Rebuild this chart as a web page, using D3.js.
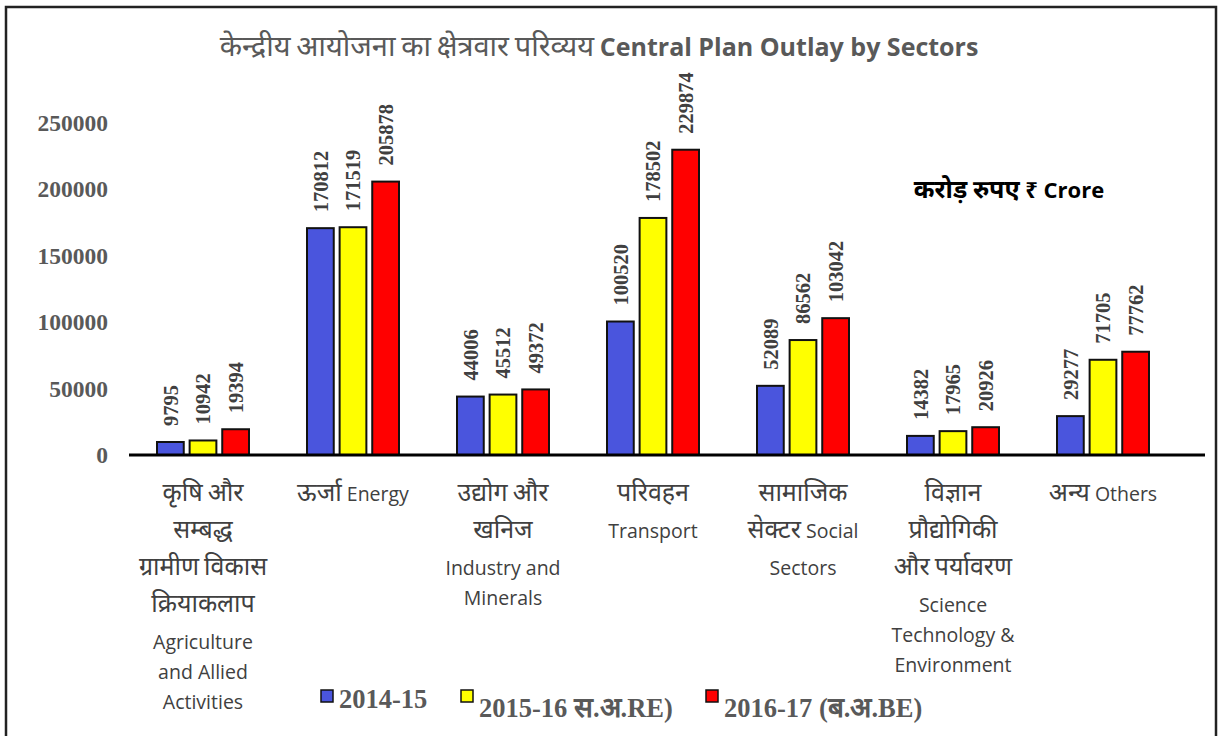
<!DOCTYPE html>
<html>
<head>
<meta charset="utf-8">
<script src="https://cdn.jsdelivr.net/npm/d3@7"></script>
<style>
  body { margin: 0; background: #fff; }
</style>
</head>
<body>
<div id="chart"></div>
<script>
const categories = ['agri', 'energy', 'industry', 'transport', 'social', 'science', 'others']
const categoryLabels = [
    ['कृषि और', 'सम्बद्ध', 'ग्रामीण विकास', 'क्रियाकलाप', 'Agriculture', 'and Allied', 'Activities'],
    ['ऊर्जा Energy'],
    ['उद्योग और', 'खनिज', 'Industry and', 'Minerals'],
    ['परिवहन', 'Transport'],
    ['सामाजिक', 'सेक्टर Social', 'Sectors'],
    ['विज्ञान', 'प्रौद्योगिकी', 'और पर्यावरण', 'Science', 'Technology &', 'Environment'],
    ['अन्य Others']
]
const seriesNames = ['2014-15', '2015-16 स.अ.RE)', '2016-17 (ब.अ.BE)']
const values2014 = [9795, 170812, 44006, 100520, 52089, 14382, 29277]
const values2015 = [10942, 171519, 45512, 178502, 86562, 17965, 71705]
const values2016 = [19394, 205878, 49372, 229874, 103042, 20926, 77762]
const yTicks = [0, 50000, 100000, 150000, 200000, 250000]

const colors = ['#4a55dd', '#ffff00', '#ff0000']
const allSeries = [values2014, values2015, values2016]

// the fallback Devanagari font draws small, so give those runs their own size
function addMixed(parent, str, latinSize, devaSize) {
    var runs = str.match(/[\u0900-\u097F]+|[^\u0900-\u097F]+/g);
    runs.forEach(function (r) {
        parent.append('tspan')
            .attr('font-size', (/[\u0900-\u097F]/.test(r) ? devaSize : latinSize) + 'px')
            .text(r);
    });
}

function DrawBarChart() {
    var W = 1223, H = 736;
    var svg = d3.select('#chart').append('svg')
        .attr('width', W).attr('height', H);

    // outer frame
    svg.append('rect')
        .attr('x', 6).attr('y', 7).attr('width', 1210).attr('height', 740)
        .attr('fill', 'none').attr('stroke', '#222').attr('stroke-width', 2.5);

    var x0 = d3.scaleBand().domain(categories).range([128, 1178]);
    var x1 = d3.scaleBand().domain([0, 1, 2]).range([29, 121]).paddingInner(0.18);
    var y = d3.scaleLinear().domain([0, 250000]).range([455, 123]);

    // title
    var title = svg.append('text')
        .attr('x', 599).attr('y', 56)
        .attr('text-anchor', 'middle')
        .attr('fill', '#595959')
        .attr('font-family', 'Open Sans, Noto Sans, sans-serif');
    addMixed(title, 'केन्द्रीय आयोजना का क्षेत्रवार परिव्यय ', 22, 29);
    title.append('tspan').attr('font-weight', 'bold').attr('font-size', '25px')
        .text('Central Plan Outlay by Sectors');

    // y axis labels
    var yAxis = svg.append('g')
        .attr('transform', 'translate(108,0)')
        .call(d3.axisLeft(y).tickValues(yTicks).tickSize(0).tickPadding(0).tickFormat(d3.format('d')));
    yAxis.select('.domain').remove();
    yAxis.selectAll('text')
        .attr('font-family', 'Liberation Serif, Times New Roman, serif')
        .attr('font-weight', 'bold')
        .attr('font-size', '23.5px')
        .attr('fill', '#595959');

    // bars
    var groups = svg.selectAll('.grp')
        .data(categories)
        .enter().append('g')
        .attr('transform', d => 'translate(' + x0(d) + ',0)');

    groups.each(function (c, ci) {
        var g = d3.select(this);
        allSeries.forEach(function (vals, si) {
            var v = vals[ci];
            g.append('rect')
                .attr('x', x1(si))
                .attr('y', y(v))
                .attr('width', x1.bandwidth())
                .attr('height', y(0) - y(v))
                .attr('fill', colors[si])
                .attr('stroke', '#111')
                .attr('stroke-width', 2);
            var cx = x1(si) + x1.bandwidth() / 2;
            g.append('text')
                .attr('transform', 'translate(' + cx + ',' + (y(v) - 16) + ') rotate(-90)')
                .attr('dy', '0.35em')
                .attr('font-family', 'Liberation Serif, Times New Roman, serif')
                .attr('font-weight', 'bold')
                .attr('font-size', '20.5px')
                .attr('fill', '#404040')
                .text(v);
        });
    });

    // x axis line
    svg.append('line')
        .attr('x1', 129).attr('x2', 1205)
        .attr('y1', y(0)).attr('y2', y(0))
        .attr('stroke', '#000').attr('stroke-width', 3);

    // category labels
    var devanagari = /[\u0900-\u097F]/;
    categories.forEach(function (c, ci) {
        var lines = categoryLabels[ci];
        var cx = x0(c) + x0.bandwidth() / 2;
        var t = svg.append('text')
            .attr('text-anchor', 'middle')
            .attr('font-family', 'Open Sans, Noto Sans, sans-serif')
            .attr('fill', '#404040');
        var yy = 501;
        lines.forEach(function (line, li) {
            if (li > 0) yy += devanagari.test(lines[li - 1]) ? 37 : 30;
            var ts = t.append('tspan').attr('x', cx).attr('y', yy);
            addMixed(ts, line, 19.5, 25);
        });
    });

    // unit note
    var note = svg.append('text')
        .attr('x', 1009).attr('y', 198)
        .attr('text-anchor', 'middle')
        .attr('font-family', 'Open Sans, Noto Sans, sans-serif')
        .attr('font-weight', 'bold')
        .attr('fill', '#000');
    addMixed(note, 'करोड़ रुपए ₹ Crore', 22, 25);

    // legend
    var legendX = [321, 461, 706];
    var legendY = [708, 717, 717];
    seriesNames.forEach(function (name, si) {
        svg.append('rect')
            .attr('x', legendX[si]).attr('y', 690)
            .attr('width', 12).attr('height', 12)
            .attr('fill', colors[si])
            .attr('stroke', '#111').attr('stroke-width', 1.5);
        var t = svg.append('text')
            .attr('x', legendX[si] + 18).attr('y', legendY[si])
            .attr('font-family', 'Liberation Serif, Times New Roman, serif')
            .attr('font-weight', 'bold')
            .attr('fill', '#595959');
        addMixed(t, name, 26.5, 28);
    });
}

DrawBarChart();
</script>
</body>
</html>
